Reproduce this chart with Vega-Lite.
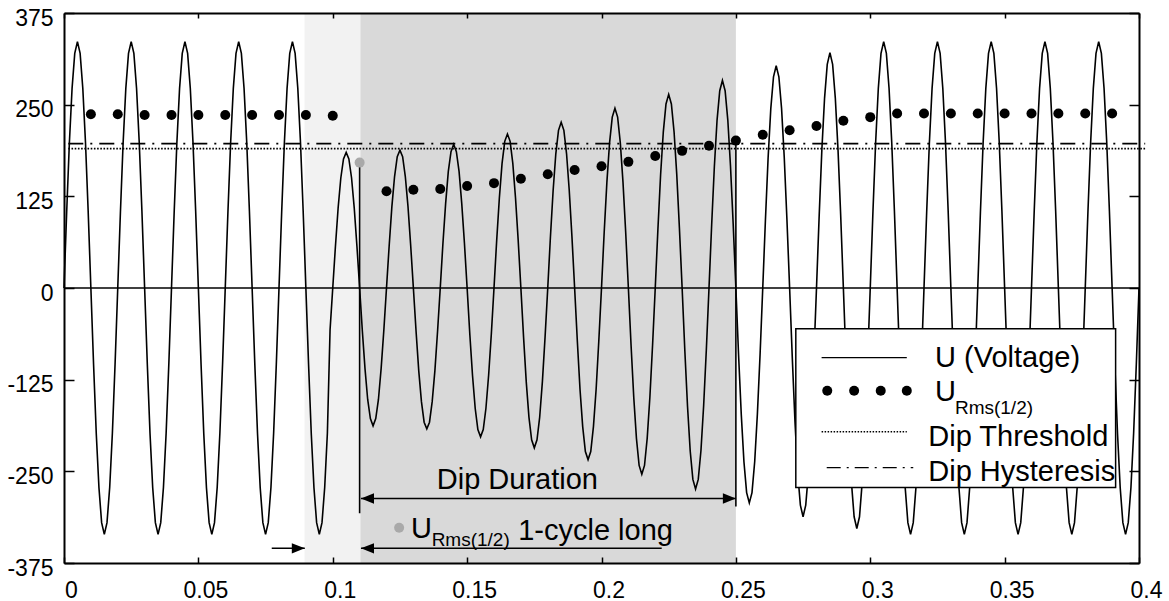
{
  "$schema": "https://vega.github.io/schema/vega-lite/v6.json",
  "width": 1075,
  "height": 550,
  "autosize": {"type": "none"},
  "padding": {"left": 64, "top": 13, "right": 30, "bottom": 38},
  "background": "white",
  "config": {"view": {"stroke": null}, "font": "Liberation Sans"},
  "datasets": {
    "wave": [
      {"t":0,"v":0},{"t":0.001,"v":104},{"t":0.002,"v":198},{"t":0.003,"v":272},{"t":0.004,"v":320},{"t":0.005,"v":336},{"t":0.006,"v":320},{"t":0.007,"v":272},{"t":0.008,"v":198},{"t":0.009,"v":104},
      {"t":0.010,"v":0},{"t":0.011,"v":-104},{"t":0.012,"v":-198},{"t":0.013,"v":-272},{"t":0.014,"v":-320},{"t":0.015,"v":-336},{"t":0.016,"v":-320},{"t":0.017,"v":-272},{"t":0.018,"v":-198},{"t":0.019,"v":-104},
      {"t":0.020,"v":0},{"t":0.021,"v":104},{"t":0.022,"v":198},{"t":0.023,"v":272},{"t":0.024,"v":320},{"t":0.025,"v":336},{"t":0.026,"v":320},{"t":0.027,"v":272},{"t":0.028,"v":198},{"t":0.029,"v":104},
      {"t":0.030,"v":0},{"t":0.031,"v":-104},{"t":0.032,"v":-198},{"t":0.033,"v":-272},{"t":0.034,"v":-320},{"t":0.035,"v":-336},{"t":0.036,"v":-320},{"t":0.037,"v":-272},{"t":0.038,"v":-198},{"t":0.039,"v":-104},
      {"t":0.040,"v":0},{"t":0.041,"v":104},{"t":0.042,"v":198},{"t":0.043,"v":272},{"t":0.044,"v":320},{"t":0.045,"v":336},{"t":0.046,"v":320},{"t":0.047,"v":272},{"t":0.048,"v":198},{"t":0.049,"v":104},
      {"t":0.050,"v":0},{"t":0.051,"v":-104},{"t":0.052,"v":-198},{"t":0.053,"v":-272},{"t":0.054,"v":-320},{"t":0.055,"v":-336},{"t":0.056,"v":-320},{"t":0.057,"v":-272},{"t":0.058,"v":-198},{"t":0.059,"v":-104},
      {"t":0.060,"v":0},{"t":0.061,"v":104},{"t":0.062,"v":198},{"t":0.063,"v":272},{"t":0.064,"v":320},{"t":0.065,"v":336},{"t":0.066,"v":320},{"t":0.067,"v":272},{"t":0.068,"v":198},{"t":0.069,"v":104},
      {"t":0.070,"v":0},{"t":0.071,"v":-104},{"t":0.072,"v":-198},{"t":0.073,"v":-272},{"t":0.074,"v":-320},{"t":0.075,"v":-336},{"t":0.076,"v":-320},{"t":0.077,"v":-272},{"t":0.078,"v":-198},{"t":0.079,"v":-104},
      {"t":0.080,"v":0},{"t":0.081,"v":104},{"t":0.082,"v":198},{"t":0.083,"v":272},{"t":0.084,"v":320},{"t":0.085,"v":336},{"t":0.086,"v":320},{"t":0.087,"v":272},{"t":0.088,"v":198},{"t":0.089,"v":104},
      {"t":0.090,"v":0},{"t":0.091,"v":-104},{"t":0.092,"v":-198},{"t":0.093,"v":-272},{"t":0.094,"v":-320},{"t":0.095,"v":-336},{"t":0.096,"v":-320},{"t":0.097,"v":-272},{"t":0.098,"v":-198},{"t":0.099,"v":-57},
      {"t":0.100,"v":0},{"t":0.101,"v":57},{"t":0.102,"v":109},{"t":0.103,"v":150},{"t":0.104,"v":176},{"t":0.105,"v":185},{"t":0.106,"v":176},{"t":0.107,"v":150},{"t":0.108,"v":109},{"t":0.109,"v":57},
      {"t":0.110,"v":0},{"t":0.111,"v":-58},{"t":0.112,"v":-110},{"t":0.113,"v":-152},{"t":0.114,"v":-178},{"t":0.115,"v":-188},{"t":0.116,"v":-178},{"t":0.117,"v":-152},{"t":0.118,"v":-110},{"t":0.119,"v":-58},
      {"t":0.120,"v":0},{"t":0.121,"v":58},{"t":0.122,"v":111},{"t":0.123,"v":152},{"t":0.124,"v":179},{"t":0.125,"v":188},{"t":0.126,"v":179},{"t":0.127,"v":152},{"t":0.128,"v":111},{"t":0.129,"v":58},
      {"t":0.130,"v":0},{"t":0.131,"v":-59},{"t":0.132,"v":-113},{"t":0.133,"v":-155},{"t":0.134,"v":-183},{"t":0.135,"v":-192},{"t":0.136,"v":-183},{"t":0.137,"v":-155},{"t":0.138,"v":-113},{"t":0.139,"v":-59},
      {"t":0.140,"v":0},{"t":0.141,"v":61},{"t":0.142,"v":115},{"t":0.143,"v":159},{"t":0.144,"v":186},{"t":0.145,"v":196},{"t":0.146,"v":186},{"t":0.147,"v":159},{"t":0.148,"v":115},{"t":0.149,"v":61},
      {"t":0.150,"v":0},{"t":0.151,"v":-63},{"t":0.152,"v":-119},{"t":0.153,"v":-164},{"t":0.154,"v":-193},{"t":0.155,"v":-203},{"t":0.156,"v":-193},{"t":0.157,"v":-164},{"t":0.158,"v":-119},{"t":0.159,"v":-63},
      {"t":0.160,"v":0},{"t":0.161,"v":65},{"t":0.162,"v":123},{"t":0.163,"v":170},{"t":0.164,"v":200},{"t":0.165,"v":210},{"t":0.166,"v":200},{"t":0.167,"v":170},{"t":0.168,"v":123},{"t":0.169,"v":65},
      {"t":0.170,"v":0},{"t":0.171,"v":-67},{"t":0.172,"v":-128},{"t":0.173,"v":-176},{"t":0.174,"v":-207},{"t":0.175,"v":-218},{"t":0.176,"v":-207},{"t":0.177,"v":-176},{"t":0.178,"v":-128},{"t":0.179,"v":-67},
      {"t":0.180,"v":0},{"t":0.181,"v":70},{"t":0.182,"v":133},{"t":0.183,"v":183},{"t":0.184,"v":215},{"t":0.185,"v":226},{"t":0.186,"v":215},{"t":0.187,"v":183},{"t":0.188,"v":133},{"t":0.189,"v":70},
      {"t":0.190,"v":0},{"t":0.191,"v":-72},{"t":0.192,"v":-138},{"t":0.193,"v":-189},{"t":0.194,"v":-223},{"t":0.195,"v":-234},{"t":0.196,"v":-223},{"t":0.197,"v":-189},{"t":0.198,"v":-138},{"t":0.199,"v":-72},
      {"t":0.200,"v":0},{"t":0.201,"v":76},{"t":0.202,"v":144},{"t":0.203,"v":198},{"t":0.204,"v":233},{"t":0.205,"v":245},{"t":0.206,"v":233},{"t":0.207,"v":198},{"t":0.208,"v":144},{"t":0.209,"v":76},
      {"t":0.210,"v":0},{"t":0.211,"v":-78},{"t":0.212,"v":-149},{"t":0.213,"v":-205},{"t":0.214,"v":-242},{"t":0.215,"v":-254},{"t":0.216,"v":-242},{"t":0.217,"v":-205},{"t":0.218,"v":-149},{"t":0.219,"v":-78},
      {"t":0.220,"v":0},{"t":0.221,"v":81},{"t":0.222,"v":155},{"t":0.223,"v":213},{"t":0.224,"v":251},{"t":0.225,"v":264},{"t":0.226,"v":251},{"t":0.227,"v":213},{"t":0.228,"v":155},{"t":0.229,"v":81},
      {"t":0.230,"v":0},{"t":0.231,"v":-85},{"t":0.232,"v":-161},{"t":0.233,"v":-222},{"t":0.234,"v":-261},{"t":0.235,"v":-274},{"t":0.236,"v":-261},{"t":0.237,"v":-222},{"t":0.238,"v":-161},{"t":0.239,"v":-85},
      {"t":0.240,"v":0},{"t":0.241,"v":87},{"t":0.242,"v":166},{"t":0.243,"v":229},{"t":0.244,"v":269},{"t":0.245,"v":283},{"t":0.246,"v":269},{"t":0.247,"v":229},{"t":0.248,"v":166},{"t":0.249,"v":87},
      {"t":0.250,"v":0},{"t":0.251,"v":-91},{"t":0.252,"v":-172},{"t":0.253,"v":-237},{"t":0.254,"v":-279},{"t":0.255,"v":-293},{"t":0.256,"v":-279},{"t":0.257,"v":-237},{"t":0.258,"v":-172},{"t":0.259,"v":-91},
      {"t":0.260,"v":0},{"t":0.261,"v":93},{"t":0.262,"v":178},{"t":0.263,"v":245},{"t":0.264,"v":288},{"t":0.265,"v":303},{"t":0.266,"v":288},{"t":0.267,"v":245},{"t":0.268,"v":178},{"t":0.269,"v":93},
      {"t":0.270,"v":0},{"t":0.271,"v":-96},{"t":0.272,"v":-183},{"t":0.273,"v":-252},{"t":0.274,"v":-296},{"t":0.275,"v":-312},{"t":0.276,"v":-296},{"t":0.277,"v":-252},{"t":0.278,"v":-183},{"t":0.279,"v":-96},
      {"t":0.280,"v":0},{"t":0.281,"v":99},{"t":0.282,"v":189},{"t":0.283,"v":259},{"t":0.284,"v":305},{"t":0.285,"v":321},{"t":0.286,"v":305},{"t":0.287,"v":259},{"t":0.288,"v":189},{"t":0.289,"v":99},
      {"t":0.290,"v":0},{"t":0.291,"v":-101},{"t":0.292,"v":-193},{"t":0.293,"v":-265},{"t":0.294,"v":-312},{"t":0.295,"v":-328},{"t":0.296,"v":-312},{"t":0.297,"v":-265},{"t":0.298,"v":-193},{"t":0.299,"v":-101},
      {"t":0.300,"v":0},{"t":0.301,"v":104},{"t":0.302,"v":198},{"t":0.303,"v":272},{"t":0.304,"v":320},{"t":0.305,"v":336},{"t":0.306,"v":320},{"t":0.307,"v":272},{"t":0.308,"v":198},{"t":0.309,"v":104},
      {"t":0.310,"v":0},{"t":0.311,"v":-104},{"t":0.312,"v":-198},{"t":0.313,"v":-272},{"t":0.314,"v":-320},{"t":0.315,"v":-336},{"t":0.316,"v":-320},{"t":0.317,"v":-272},{"t":0.318,"v":-198},{"t":0.319,"v":-104},
      {"t":0.320,"v":0},{"t":0.321,"v":104},{"t":0.322,"v":198},{"t":0.323,"v":272},{"t":0.324,"v":320},{"t":0.325,"v":336},{"t":0.326,"v":320},{"t":0.327,"v":272},{"t":0.328,"v":198},{"t":0.329,"v":104},
      {"t":0.330,"v":0},{"t":0.331,"v":-104},{"t":0.332,"v":-198},{"t":0.333,"v":-272},{"t":0.334,"v":-320},{"t":0.335,"v":-336},{"t":0.336,"v":-320},{"t":0.337,"v":-272},{"t":0.338,"v":-198},{"t":0.339,"v":-104},
      {"t":0.340,"v":0},{"t":0.341,"v":104},{"t":0.342,"v":198},{"t":0.343,"v":272},{"t":0.344,"v":320},{"t":0.345,"v":336},{"t":0.346,"v":320},{"t":0.347,"v":272},{"t":0.348,"v":198},{"t":0.349,"v":104},
      {"t":0.350,"v":0},{"t":0.351,"v":-104},{"t":0.352,"v":-198},{"t":0.353,"v":-272},{"t":0.354,"v":-320},{"t":0.355,"v":-336},{"t":0.356,"v":-320},{"t":0.357,"v":-272},{"t":0.358,"v":-198},{"t":0.359,"v":-104},
      {"t":0.360,"v":0},{"t":0.361,"v":104},{"t":0.362,"v":198},{"t":0.363,"v":272},{"t":0.364,"v":320},{"t":0.365,"v":336},{"t":0.366,"v":320},{"t":0.367,"v":272},{"t":0.368,"v":198},{"t":0.369,"v":104},
      {"t":0.370,"v":0},{"t":0.371,"v":-104},{"t":0.372,"v":-198},{"t":0.373,"v":-272},{"t":0.374,"v":-320},{"t":0.375,"v":-336},{"t":0.376,"v":-320},{"t":0.377,"v":-272},{"t":0.378,"v":-198},{"t":0.379,"v":-104},
      {"t":0.380,"v":0},{"t":0.381,"v":104},{"t":0.382,"v":198},{"t":0.383,"v":272},{"t":0.384,"v":320},{"t":0.385,"v":336},{"t":0.386,"v":320},{"t":0.387,"v":272},{"t":0.388,"v":198},{"t":0.389,"v":104},
      {"t":0.390,"v":0},{"t":0.391,"v":-104},{"t":0.392,"v":-198},{"t":0.393,"v":-272},{"t":0.394,"v":-320},{"t":0.395,"v":-336},{"t":0.396,"v":-320},{"t":0.397,"v":-272},{"t":0.398,"v":-198},{"t":0.399,"v":-104},
      {"t":0.400,"v":0}
    ],
    "rms": [
      {"t":0.01,"v":237,"m":"normal"},{"t":0.02,"v":237,"m":"normal"},{"t":0.03,"v":236,"m":"normal"},{"t":0.04,"v":236,"m":"normal"},{"t":0.05,"v":236,"m":"normal"},
      {"t":0.06,"v":236,"m":"normal"},{"t":0.07,"v":236,"m":"normal"},{"t":0.08,"v":236,"m":"normal"},{"t":0.09,"v":236,"m":"normal"},{"t":0.10,"v":235,"m":"normal"},
      {"t":0.11,"v":171,"m":"marked"},{"t":0.12,"v":132,"m":"normal"},{"t":0.13,"v":134,"m":"normal"},{"t":0.14,"v":135,"m":"normal"},{"t":0.15,"v":139,"m":"normal"},
      {"t":0.16,"v":143,"m":"normal"},{"t":0.17,"v":149,"m":"normal"},{"t":0.18,"v":155,"m":"normal"},{"t":0.19,"v":161,"m":"normal"},{"t":0.20,"v":166,"m":"normal"},
      {"t":0.21,"v":172,"m":"normal"},{"t":0.22,"v":180,"m":"normal"},{"t":0.23,"v":187,"m":"normal"},{"t":0.24,"v":194,"m":"normal"},{"t":0.25,"v":201,"m":"normal"},
      {"t":0.26,"v":209,"m":"normal"},{"t":0.27,"v":215,"m":"normal"},{"t":0.28,"v":221,"m":"normal"},{"t":0.29,"v":228,"m":"normal"},{"t":0.30,"v":233,"m":"normal"},
      {"t":0.31,"v":238,"m":"normal"},{"t":0.32,"v":238,"m":"normal"},{"t":0.33,"v":238,"m":"normal"},{"t":0.34,"v":238,"m":"normal"},{"t":0.35,"v":238,"m":"normal"},
      {"t":0.36,"v":238,"m":"normal"},{"t":0.37,"v":238,"m":"normal"},{"t":0.38,"v":238,"m":"normal"},{"t":0.39,"v":238,"m":"normal"},
      {"t":0.1247,"v":-327,"m":"marked"}
    ]
  },
  "encoding": {
    "x": {"field": "t", "type": "quantitative", "scale": {"domain": [0, 0.4], "nice": false, "zero": false}, "axis": null},
    "y": {"field": "v", "type": "quantitative", "scale": {"domain": [-375, 375], "nice": false, "zero": false}, "axis": null}
  },
  "layer": [
    {
      "data": {"values": [
        {"t": 0.0895, "t2": 0.1103, "v": 375, "v2": -375, "shade": "light"},
        {"t": 0.1103, "t2": 0.25, "v": 375, "v2": -375, "shade": "dark"}
      ]},
      "mark": {"type": "rect"},
      "encoding": {
        "x2": {"field": "t2"},
        "y2": {"field": "v2"},
        "fill": {"field": "shade", "type": "nominal", "scale": {"domain": ["light", "dark"], "range": ["#f2f2f2", "#d9d9d9"]}, "legend": null}
      }
    },
    {
      "data": {"values": [{"t": 0, "t2": 0.4, "v": 0}]},
      "mark": {"type": "rule", "color": "black", "strokeWidth": 1.5},
      "encoding": {
        "x": {"field": "t", "type": "quantitative", "scale": {"domain": [0, 0.4], "nice": false, "zero": false},
          "axis": {"orient": "top", "labels": false, "values": [0, 0.05, 0.1, 0.15, 0.2, 0.25, 0.3, 0.35, 0.4], "tickSize": -5, "tickWidth": 1.5, "tickColor": "black", "domainColor": "black", "domainWidth": 2, "grid": false, "title": null, "zindex": 1}},
        "y": {"field": "v", "type": "quantitative", "scale": {"domain": [-375, 375], "nice": false, "zero": false},
          "axis": {"orient": "right", "labels": false, "values": [-375, -250, -125, 0, 125, 250, 375], "tickSize": -10, "tickWidth": 1.5, "tickColor": "black", "domainColor": "black", "domainWidth": 2, "grid": false, "title": null, "zindex": 1}},
        "x2": {"field": "t2"}
      }
    },
    {
      "data": {"name": "wave"},
      "mark": {"type": "line", "color": "black", "strokeWidth": 1.6, "interpolate": "linear"},
      "encoding": {
        "x": {"field": "t", "type": "quantitative", "scale": {"domain": [0, 0.4], "nice": false, "zero": false},
          "axis": {"orient": "bottom", "values": [0, 0.05, 0.1, 0.15, 0.2, 0.25, 0.3, 0.35, 0.4], "labelExpr": "'' + datum.value", "tickSize": -6, "tickWidth": 1.5, "tickColor": "black", "domainColor": "black", "domainWidth": 2, "labelFont": "Liberation Sans", "labelFontSize": 23, "labelColor": "black", "labelPadding": 22, "labelOffset": 7, "labelFlush": false, "labelOverlap": false, "grid": false, "title": null, "zindex": 1}},
        "y": {"field": "v", "type": "quantitative", "scale": {"domain": [-375, 375], "nice": false, "zero": false},
          "axis": {"orient": "left", "values": [-375, -250, -125, 0, 125, 250, 375], "labelExpr": "'' + datum.value", "tickSize": -10, "tickWidth": 1.5, "tickColor": "black", "domainColor": "black", "domainWidth": 2, "labelFont": "Liberation Sans", "labelFontSize": 23, "labelColor": "black", "labelPadding": 21, "labelOffset": 5, "labelFlush": false, "labelOverlap": false, "grid": false, "title": null, "zindex": 1}},
        "order": {"field": "t", "type": "quantitative"}
      }
    },
    {
      "data": {"values": [{"t": 0.0016, "t2": 0.4023, "v": 190}]},
      "mark": {"type": "rule", "color": "black", "strokeWidth": 1.6, "strokeDash": [1.6, 1.6]},
      "encoding": {"x2": {"field": "t2"}}
    },
    {
      "data": {"values": [{"t": 0.0016, "t2": 0.4023, "v": 197}]},
      "mark": {"type": "rule", "color": "black", "strokeWidth": 1.8, "strokeDash": [15, 7, 2, 7]},
      "encoding": {"x2": {"field": "t2"}}
    },
    {
      "data": {"values": [{"t": 0.11, "v": 171, "v2": -307}, {"t": 0.25, "v": 201, "v2": -298}]},
      "mark": {"type": "rule", "color": "black", "strokeWidth": 1.6},
      "encoding": {"y2": {"field": "v2"}}
    },
    {
      "data": {"name": "rms"},
      "mark": {"type": "point", "filled": true, "size": 100, "opacity": 1, "strokeWidth": 0},
      "encoding": {
        "color": {"field": "m", "type": "nominal", "scale": {"domain": ["normal", "marked"], "range": ["#000000", "#a9a9a9"]}, "legend": null}
      }
    },
    {
      "data": {"values": [
        {"t": 0.1105, "t2": 0.25, "v": -287},
        {"t": 0.1105, "t2": 0.2224, "v": -355},
        {"t": 0.0773, "t2": 0.0896, "v": -355}
      ]},
      "mark": {"type": "rule", "color": "black", "strokeWidth": 1.5},
      "encoding": {"x2": {"field": "t2"}}
    },
    {
      "data": {"values": [
        {"t": 0.1105, "v": -287, "dir": "left"},
        {"t": 0.25, "v": -287, "dir": "right"},
        {"t": 0.1105, "v": -355, "dir": "left"},
        {"t": 0.0896, "v": -355, "dir": "right"}
      ]},
      "mark": {"type": "point", "filled": true, "size": 169, "color": "black", "opacity": 1},
      "encoding": {
        "shape": {"field": "dir", "type": "nominal", "scale": {"domain": ["left", "right"], "range": ["M0,0L2,-0.8L2,0.8Z", "M0,0L-2,-0.8L-2,0.8Z"]}, "legend": null}
      }
    },
    {
      "data": {"values": [
        {"t": 0.1387, "v": -262, "label": "Dip Duration"},
        {"t": 0.1291, "v": -328.6, "label": "U"},
        {"t": 0.1690, "v": -332, "label": "1-cycle long"}
      ]},
      "mark": {"type": "text", "align": "left", "baseline": "middle", "font": "Liberation Sans", "fontSize": 29, "color": "black"},
      "encoding": {"text": {"field": "label"}}
    },
    {
      "data": {"values": [{"t": 0.1368, "v": -343.6, "label": "Rms(1/2)"}]},
      "mark": {"type": "text", "align": "left", "baseline": "middle", "font": "Liberation Sans", "fontSize": 19, "color": "black"},
      "encoding": {"text": {"field": "label"}}
    },
    {
      "data": {"values": [{"t": 0.2723, "t2": 0.3913, "v": -55.5, "v2": -272}]},
      "mark": {"type": "rect", "fill": "white", "stroke": "black", "strokeWidth": 1.5},
      "encoding": {"x2": {"field": "t2"}, "y2": {"field": "v2"}}
    },
    {
      "data": {"values": [{"t": 0.2819, "t2": 0.3136, "v": -95}]},
      "mark": {"type": "rule", "color": "black", "strokeWidth": 1.3},
      "encoding": {"x2": {"field": "t2"}}
    },
    {
      "data": {"values": [{"t": 0.2819, "t2": 0.3136, "v": -196}]},
      "mark": {"type": "rule", "color": "black", "strokeWidth": 1.3, "strokeDash": [1.5, 1.5]},
      "encoding": {"x2": {"field": "t2"}}
    },
    {
      "data": {"values": [{"t": 0.2838, "t2": 0.3160, "v": -245}]},
      "mark": {"type": "rule", "color": "black", "strokeWidth": 1.3, "strokeDash": [14, 6, 2, 6]},
      "encoding": {"x2": {"field": "t2"}}
    },
    {
      "data": {"values": [{"t": 0.2840, "v": -140}, {"t": 0.2940, "v": -140}, {"t": 0.3039, "v": -140}, {"t": 0.3136, "v": -140}]},
      "mark": {"type": "point", "filled": true, "size": 100, "color": "black", "opacity": 1}
    },
    {
      "data": {"values": [
        {"t": 0.3241, "v": -96, "label": "U (Voltage)"},
        {"t": 0.3241, "v": -141.4, "label": "U"},
        {"t": 0.3216, "v": -202.8, "label": "Dip Threshold"},
        {"t": 0.3216, "v": -250.5, "label": "Dip Hysteresis"}
      ]},
      "mark": {"type": "text", "align": "left", "baseline": "middle", "font": "Liberation Sans", "fontSize": 29, "color": "black"},
      "encoding": {"text": {"field": "label"}}
    },
    {
      "data": {"values": [{"t": 0.3315, "v": -163.6, "label": "Rms(1/2)"}]},
      "mark": {"type": "text", "align": "left", "baseline": "middle", "font": "Liberation Sans", "fontSize": 19, "color": "black"},
      "encoding": {"text": {"field": "label"}}
    }
  ],
  "resolve": {"axis": {"x": "independent", "y": "independent"}, "scale": {"color": "independent", "fill": "independent"}}
}
